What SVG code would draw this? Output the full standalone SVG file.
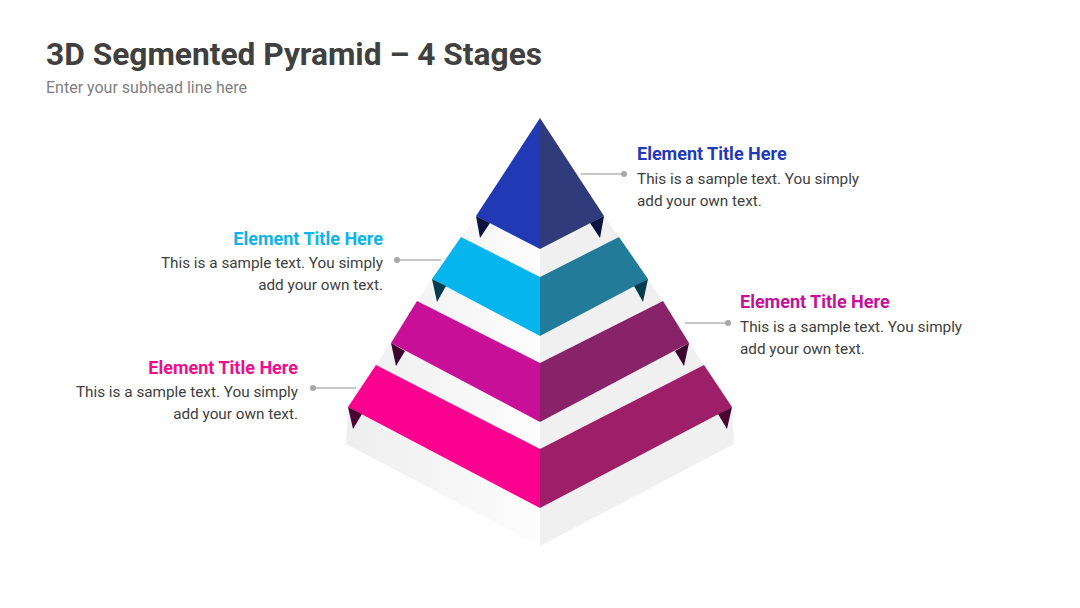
<svg xmlns="http://www.w3.org/2000/svg" width="1080" height="608" viewBox="0 0 1080 608">
<defs>
<linearGradient id="lf" x1="346" y1="0" x2="540" y2="0" gradientUnits="userSpaceOnUse">
<stop offset="0" stop-color="#eeeeee"/><stop offset="1" stop-color="#fdfdfd"/>
</linearGradient>
<style>
.t{font-family:Roboto,"Liberation Sans",sans-serif}
.h{font-weight:bold;font-size:18px}
.b{font-size:15.3px;fill:#404040}
.rf{fill:#f0f0f0}
.ln{stroke:#b3b3b3;stroke-width:1.3}
.dot{fill:#a8a8a8}
</style>
</defs>
<rect width="1080" height="608" fill="#fff"/>
<text class="t" x="46" y="65" font-size="31.7" font-weight="bold" fill="#404040">3D Segmented Pyramid – 4 Stages</text>
<text class="t" x="46" y="93" font-size="16" fill="#7f7f7f">Enter your subhead line here</text>

<g id="body">
<polygon points="476,216 540,249 540,277 461,237" fill="url(#lf)"/>
<polygon class="rf" points="604,216 540,249 540,277 619,237"/>
<polygon points="432,279 540,336 540,363 417,301" fill="url(#lf)"/>
<polygon class="rf" points="648,279 540,336 540,363 663,301"/>
<polygon points="391,343 540,422 540,449 376,365" fill="url(#lf)"/>
<polygon class="rf" points="689,343 540,422 540,449 704,365"/>
<polygon points="348,407 540,508 540,546 346,444" fill="url(#lf)"/>
<polygon class="rf" points="732,407 540,508 540,546 734,444"/>
</g>

<g id="stage1">
<polygon points="540,118 476,216 540,249" fill="#2139b5"/>
<polygon points="540,118 604,216 540,249" fill="#2f3b7b"/>
<polygon points="476,216 480,238 490,223" fill="#0c1440"/>
<polygon points="604,216 600,238 590,223" fill="#0c1440"/>
</g>
<g id="stage2">
<polygon points="461,237 540,277 540,336 432,279" fill="#07b5ee"/>
<polygon points="619,237 540,277 540,336 648,279" fill="#217b99"/>
<polygon points="432,279 437,302 446,286" fill="#053d50"/>
<polygon points="648,279 643,302 634,286" fill="#053d50"/>
</g>
<g id="stage3">
<polygon points="417,301 540,363 540,422 391,343" fill="#c80f98"/>
<polygon points="663,301 540,363 540,422 689,343" fill="#892369"/>
<polygon points="391,343 396,366 405,351" fill="#3e0530"/>
<polygon points="689,343 684,366 675,351" fill="#3e0530"/>
</g>
<g id="stage4">
<polygon points="376,365 540,449 540,508 348,407" fill="#fa0190"/>
<polygon points="704,365 540,449 540,508 732,407" fill="#9d1f68"/>
<polygon points="348,407 353,429 362,414" fill="#4a0535"/>
<polygon points="732,407 727,429 718,414" fill="#4a0535"/>
</g>

<g id="connectors">
<line class="ln" x1="581" y1="174" x2="624" y2="174"/><circle class="dot" cx="624" cy="174" r="3"/>
<line class="ln" x1="397" y1="260" x2="441" y2="260"/><circle class="dot" cx="397" cy="260" r="3"/>
<line class="ln" x1="685" y1="323" x2="728" y2="323"/><circle class="dot" cx="728" cy="323" r="3"/>
<line class="ln" x1="313" y1="388" x2="356" y2="388"/><circle class="dot" cx="313" cy="388" r="3"/>
</g>

<g id="label1" class="t">
<text class="h" x="637" y="160" fill="#2339b5">Element Title Here</text>
<text class="b" x="637" y="184">This is a sample text. You simply</text>
<text class="b" x="637" y="206">add your own text.</text>
</g>
<g id="label2" class="t" text-anchor="end">
<text class="h" x="383" y="245" fill="#0db4ea">Element Title Here</text>
<text class="b" x="383" y="268">This is a sample text. You simply</text>
<text class="b" x="383" y="290">add your own text.</text>
</g>
<g id="label3" class="t">
<text class="h" x="740" y="308" fill="#c5109a">Element Title Here</text>
<text class="b" x="740" y="332">This is a sample text. You simply</text>
<text class="b" x="740" y="354">add your own text.</text>
</g>
<g id="label4" class="t" text-anchor="end">
<text class="h" x="298" y="374" fill="#ef0d8d">Element Title Here</text>
<text class="b" x="298" y="397">This is a sample text. You simply</text>
<text class="b" x="298" y="419">add your own text.</text>
</g>
</svg>
